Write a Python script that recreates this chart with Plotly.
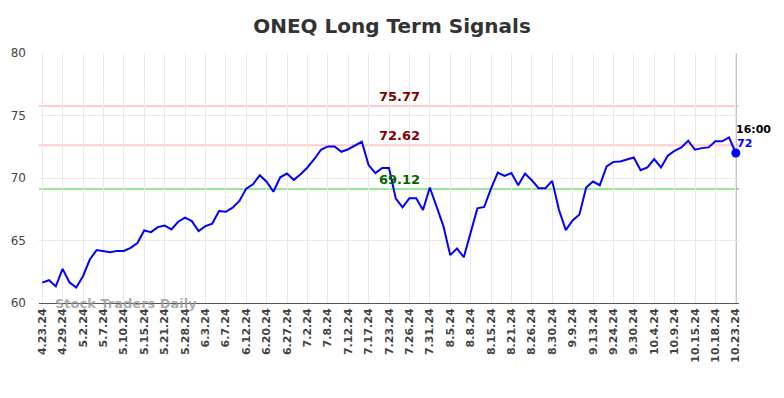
import plotly.graph_objects as go

tick_labels = ["4.23.24", "4.29.24", "5.2.24", "5.7.24", "5.10.24", "5.15.24", "5.21.24",
               "5.28.24", "6.3.24", "6.7.24", "6.12.24", "6.20.24", "6.27.24", "7.2.24",
               "7.8.24", "7.12.24", "7.17.24", "7.23.24", "7.26.24", "7.31.24", "8.5.24",
               "8.8.24", "8.15.24", "8.21.24", "8.26.24", "8.30.24", "9.9.24", "9.13.24",
               "9.24.24", "9.30.24", "10.4.24", "10.9.24", "10.15.24", "10.18.24", "10.23.24"]

prices = [61.63, 61.82, 61.33, 62.73, 61.66, 61.23, 62.14, 63.48, 64.23, 64.15,
          64.07, 64.17, 64.17, 64.41, 64.80, 65.80, 65.67, 66.07, 66.20, 65.89,
          66.50, 66.83, 66.55, 65.75, 66.15, 66.34, 67.36, 67.30, 67.63, 68.16,
          69.15, 69.50, 70.22, 69.70, 68.90, 70.06, 70.36, 69.85, 70.30, 70.84,
          71.50, 72.26, 72.53, 72.53, 72.10, 72.30, 72.58, 72.90, 71.03, 70.39,
          70.80, 70.80, 68.35, 67.65, 68.38, 68.38, 67.44, 69.24, 67.71, 66.15,
          63.83, 64.36, 63.66, 65.62, 67.57, 67.68, 69.15, 70.44, 70.17, 70.39,
          69.42, 70.36, 69.82, 69.18, 69.18, 69.77, 67.44, 65.83, 66.61, 67.09,
          69.24, 69.72, 69.42, 70.92, 71.29, 71.32, 71.48, 71.64, 70.63, 70.84,
          71.51, 70.84, 71.78, 72.18, 72.45, 72.98, 72.26, 72.39, 72.45, 72.93,
          72.93, 73.25, 72.00]

tick_step = 3
resistance_levels = [75.77, 72.62]
support_levels = [69.12]
last_time = "16:00"
last_label = "72"

FONT = "DejaVu Sans"
idx = list(range(len(prices)))
tick_vals = idx[::tick_step]
last_i = idx[-1]

fig = go.Figure()

fig.add_trace(go.Scatter(x=idx, y=prices, mode="lines",
                         line=dict(color="#0000ff", width=2), hoverinfo="skip"))
fig.add_trace(go.Scatter(x=[last_i], y=[prices[-1]], mode="markers", cliponaxis=False,
                         marker=dict(color="#0000ff", size=9), hoverinfo="skip"))

for lv in resistance_levels:
    fig.add_hline(y=lv, line=dict(color="#ffcccc", width=2), layer="below")
    fig.add_annotation(x=0.515, xref="paper", y=lv, yref="y", text=f"<b>{lv:.2f}</b>",
                       showarrow=False, yanchor="bottom", yshift=0,
                       font=dict(family=FONT, size=13, color="#800000"))
for lv in support_levels:
    fig.add_hline(y=lv, line=dict(color="#99e699", width=2), layer="below")
    fig.add_annotation(x=0.515, xref="paper", y=lv, yref="y", text=f"<b>{lv:.2f}</b>",
                       showarrow=False, yanchor="bottom", yshift=0,
                       font=dict(family=FONT, size=13, color="#006400"))

fig.add_vline(x=last_i, line=dict(color="#999999", width=1.5), layer="below")

fig.add_annotation(x=last_i, y=prices[-1], xref="x", yref="y",
                   text=f"<b>{last_time}</b>", showarrow=False,
                   xanchor="left", yanchor="bottom", xshift=-2, yshift=15,
                   font=dict(family=FONT, size=11, color="#000000"))
fig.add_annotation(x=last_i, y=prices[-1], xref="x", yref="y",
                   text=f"<b>{last_label}</b>", showarrow=False,
                   xanchor="left", yanchor="bottom", xshift=-1, yshift=1,
                   font=dict(family=FONT, size=11, color="#0000ff"))

fig.add_annotation(x=0.02, xref="paper", y=60, yref="y", text="<b>Stock Traders Daily</b>",
                   showarrow=False, xanchor="left", yanchor="middle",
                   font=dict(family=FONT, size=13, color="rgba(150,150,150,0.8)"))

fig.update_layout(
    width=784, height=398,
    margin=dict(l=39, r=45, t=53, b=95),
    paper_bgcolor="white", plot_bgcolor="white",
    showlegend=False,
    title=dict(text="<b>ONEQ Long Term Signals</b>", x=0.5, xref="container",
               y=1 - 26 / 398, yanchor="middle",
               font=dict(family=FONT, size=20, color="#333333")),
    xaxis=dict(range=[-0.47, last_i + 0.47], tickvals=tick_vals, ticktext=tick_labels,
               tickangle=-90, showgrid=True, gridcolor="#e8e8e8", gridwidth=1,
               zeroline=False, showline=True, linecolor="#555555", linewidth=1,
               ticks="", tickfont=dict(family=FONT, size=11, color="#444444", weight="bold")),
    yaxis=dict(range=[60, 80], tickvals=[60, 65, 70, 75, 80], showgrid=True,
               gridcolor="#e8e8e8", gridwidth=1, zeroline=False, showline=False,
               ticks="", ticklabelstandoff=12,
               tickfont=dict(family=FONT, size=12, color="#444444")),
)

fig.write_html("out.html", config={"displayModeBar": False},
               post_script="document.body.style.margin='0';")
